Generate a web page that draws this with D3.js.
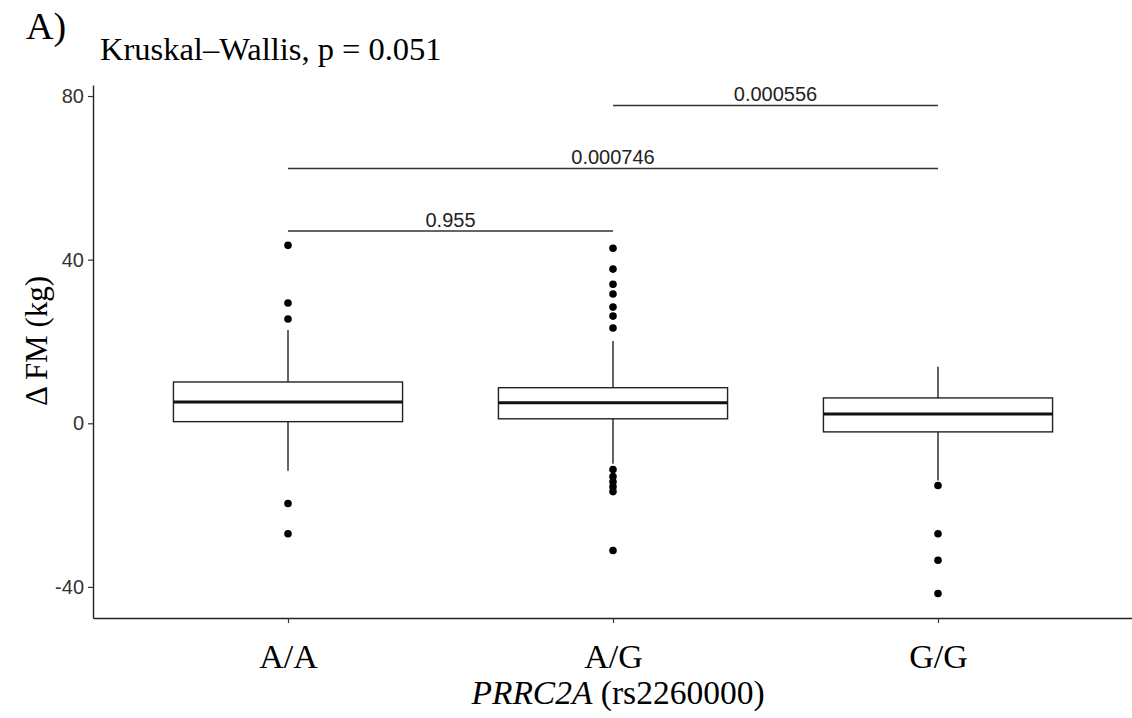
<!DOCTYPE html>
<html>
<head>
<meta charset="utf-8">
<script src="https://cdn.jsdelivr.net/npm/d3@7"></script>
<style>
  body { margin: 0; background: #fff; }
  svg { display: block; }
</style>
</head>
<body>
<div class="chart"></div>
<script>
// ---------------------------------- DATA
var groups = ["A/A", "A/G", "G/G"];
var whiskerLow = [-11.6, -9.9, -14.0];
var q1 = [0.4, 1.1, -2.1];
var medians = [5.2, 5.0, 2.3];
var q3 = [10.1, 8.7, 6.2];
var whiskerHigh = [22.8, 20.1, 13.8];
var outliersAA = [43.5, 29.4, 25.5, -19.6, -27.0];
var outliersAG = [42.8, 37.7, 34.0, 31.6, 28.4, 26.2, 23.3, -11.3, -13.0, -14.3, -15.5, -16.7, -31.1];
var outliersGG = [-15.2, -27.0, -33.5, -41.6];
var yTicks = [-40, 0, 40, 80];

// pairwise comparisons (from, to, bracket height, label)
var compFrom = ["A/A", "A/A", "A/G"];
var compTo = ["A/G", "G/G", "G/G"];
var compY = [47.0, 62.3, 77.7];
var compLabel = ["0.955", "0.000746", "0.000556"];

// ---------------------------------- SETUP
var width = 1132, height = 718;
var margin = {left: 93, right: 0, top: 85, bottom: 100};
var serif = "'Liberation Serif', 'Times New Roman', serif";
var sans = "'Liberation Sans', Arial, sans-serif";

var svg = d3.select(".chart").append("svg")
  .attr("width", width)
  .attr("height", height);

svg.append("rect").attr("width", width).attr("height", height).attr("fill", "#fff");

var x = d3.scalePoint()
  .domain(groups)
  .range([margin.left, 1133])
  .padding(0.6);

var y = d3.scaleLinear()
  .domain([-47.6, 82.7])
  .range([height - margin.bottom, margin.top]);

var boxWidth = x.step() * 0.705;

// ---------------------------------- BOXES
var boxes = groups.map(function(g, i) {
  return {g: g, lo: whiskerLow[i], q1: q1[i], med: medians[i], q3: q3[i], hi: whiskerHigh[i]};
});

var boxGroup = svg.append("g");

// whiskers
boxGroup.selectAll("line.whisk-up")
  .data(boxes).enter().append("line")
  .attr("x1", function(d){ return x(d.g); })
  .attr("x2", function(d){ return x(d.g); })
  .attr("y1", function(d){ return y(d.q3); })
  .attr("y2", function(d){ return y(d.hi); })
  .attr("stroke", "#222").attr("stroke-width", 1.4);

boxGroup.selectAll("line.whisk-down")
  .data(boxes).enter().append("line")
  .attr("x1", function(d){ return x(d.g); })
  .attr("x2", function(d){ return x(d.g); })
  .attr("y1", function(d){ return y(d.q1); })
  .attr("y2", function(d){ return y(d.lo); })
  .attr("stroke", "#222").attr("stroke-width", 1.4);

boxGroup.selectAll("rect.box")
  .data(boxes).enter().append("rect")
  .attr("x", function(d){ return x(d.g) - boxWidth / 2; })
  .attr("y", function(d){ return y(d.q3); })
  .attr("width", boxWidth)
  .attr("height", function(d){ return y(d.q1) - y(d.q3); })
  .attr("fill", "#fff")
  .attr("stroke", "#222")
  .attr("stroke-width", 1.4);

boxGroup.selectAll("line.median")
  .data(boxes).enter().append("line")
  .attr("x1", function(d){ return x(d.g) - boxWidth / 2; })
  .attr("x2", function(d){ return x(d.g) + boxWidth / 2; })
  .attr("y1", function(d){ return y(d.med); })
  .attr("y2", function(d){ return y(d.med); })
  .attr("stroke", "#111").attr("stroke-width", 3);

// outliers
var points = [];
outliersAA.forEach(function(v){ points.push({g: "A/A", v: v}); });
outliersAG.forEach(function(v){ points.push({g: "A/G", v: v}); });
outliersGG.forEach(function(v){ points.push({g: "G/G", v: v}); });

svg.selectAll("circle.out")
  .data(points).enter().append("circle")
  .attr("cx", function(d){ return x(d.g); })
  .attr("cy", function(d){ return y(d.v); })
  .attr("r", 3.8)
  .attr("fill", "#000");

// ---------------------------------- COMPARISONS
var comps = compFrom.map(function(f, i) {
  return {from: f, to: compTo[i], v: compY[i], label: compLabel[i]};
});

svg.selectAll("line.comp")
  .data(comps).enter().append("line")
  .attr("x1", function(d){ return x(d.from); })
  .attr("x2", function(d){ return x(d.to); })
  .attr("y1", function(d){ return y(d.v); })
  .attr("y2", function(d){ return y(d.v); })
  .attr("stroke", "#333").attr("stroke-width", 1.4);

svg.selectAll("text.comp")
  .data(comps).enter().append("text")
  .attr("x", function(d){ return (x(d.from) + x(d.to)) / 2; })
  .attr("y", function(d){ return y(d.v) - 4; })
  .attr("text-anchor", "middle")
  .attr("font-family", sans)
  .attr("font-size", 20)
  .attr("fill", "#222")
  .text(function(d){ return d.label; });

// ---------------------------------- AXES
var yAxis = d3.axisLeft(y).tickValues(yTicks).tickFormat(function(d){ return String(d); })
  .tickSize(5).tickSizeOuter(0).tickPadding(4);
var xAxis = d3.axisBottom(x).tickSize(5).tickSizeOuter(0);

var gy = svg.append("g")
  .attr("transform", "translate(" + margin.left + ",0)")
  .call(yAxis);
gy.select(".domain").attr("stroke", "#222").attr("stroke-width", 1.4);
gy.selectAll(".tick line").attr("stroke", "#333").attr("stroke-width", 1.2);
gy.selectAll(".tick text")
  .attr("font-family", sans)
  .attr("font-size", 20)
  .attr("fill", "#333");

var gx = svg.append("g")
  .attr("transform", "translate(0," + (height - margin.bottom) + ")")
  .call(xAxis);
gx.select(".domain").attr("stroke", "#222").attr("stroke-width", 1.4);
gx.selectAll(".tick line").attr("stroke", "#333").attr("stroke-width", 1.2);
gx.selectAll(".tick text")
  .attr("y", 50).attr("dy", 0)
  .attr("font-family", serif)
  .attr("font-size", 34)
  .attr("fill", "#000");

// ---------------------------------- TITLES
svg.append("text")
  .attr("x", 26).attr("y", 39)
  .attr("font-family", serif)
  .attr("font-size", 38)
  .text("A)");

svg.append("text")
  .attr("x", 100).attr("y", 60)
  .attr("font-family", serif)
  .attr("font-size", 32.5)
  .text("Kruskal\u2013Wallis, p = 0.051");

svg.append("text")
  .attr("transform", "translate(47,341) rotate(-90)")
  .attr("text-anchor", "middle")
  .attr("font-family", serif)
  .attr("font-size", 31)
  .text("\u0394 FM (kg)");

var xt = svg.append("text")
  .attr("x", x("A/G") + 5)
  .attr("y", 704)
  .attr("text-anchor", "middle")
  .attr("font-family", serif)
  .attr("font-size", 33.5);
xt.append("tspan").attr("font-style", "italic").text("PRRC2A");
xt.append("tspan").text(" (rs2260000)");
</script>
</body>
</html>
